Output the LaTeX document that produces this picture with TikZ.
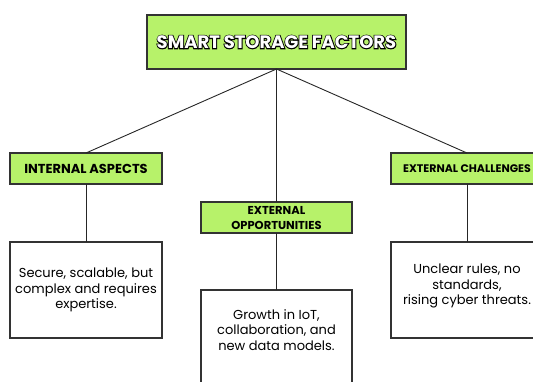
\documentclass[tikz,border=0pt]{standalone}
\usepackage{fontspec}
\setmainfont{Poppins}
\newfontface\titlerim{Poppins Bold}[FakeBold=10]
\newfontface\titlefill{Poppins Bold}
\begin{document}
\definecolor{leaf}{RGB}{183,242,106}
\definecolor{edge}{RGB}{51,51,51}
% heading word with a dark rim: an emboldened dark copy under white letters
\newcommand\rimtext[1]{\rlap{\titlerim\textcolor{black}{#1}}\titlefill\textcolor{white}{#1}}
\begin{tikzpicture}[x=1pt,y=-1pt,
  every node/.style={inner sep=0pt, outer sep=0pt},
  headbox/.style={draw=edge, line width=1.1pt, fill=leaf, align=center,
    font=\fontsize{13}{15}\selectfont\bfseries},
  factbox/.style={draw=edge, line width=1.1pt, fill=white,
    minimum width=152pt, minimum height=96pt},
  facttext/.style={align=center, text=black, font=\fontsize{13}{15.5}\selectfont},
  link/.style={draw=black!85, line width=0.9pt}]
\useasboundingbox (0,0) rectangle (533,381);

% top heading
\node[headbox, minimum width=259pt, minimum height=54pt,
  font=\fontsize{18}{20}\selectfont] (root) at (276.5,42)
  {\rimtext{SMART STORAGE FACTORS}};

% three branches
\node[headbox, minimum width=152pt, minimum height=31pt] (inner) at (86,168.5)
  {INTERNAL ASPECTS};
\node[headbox, minimum width=151pt, minimum height=31pt,
  font=\fontsize{11.5}{15}\selectfont\bfseries] (chance) at (276.5,217.5)
  {EXTERNAL\\OPPORTUNITIES};
\node[headbox, minimum width=152pt, minimum height=31pt,
  font=\fontsize{11}{13}\selectfont\bfseries] (threat) at (467,168.5)
  {EXTERNAL CHALLENGES};

% detail boxes
\node[factbox] (innerbox) at (86,290) {};
\node[facttext] (innertxt) at (86,290)
  {Secure, scalable, but\\complex and requires\\expertise.};
\node[factbox, minimum width=151pt, minimum height=110pt] (chancebox) at (276.5,345) {};
\node[facttext] (chancetxt) at (276.5,330)
  {Growth in IoT,\\collaboration, and\\new data models.};
\node[factbox] (threatbox) at (467,290) {};
\node[facttext] (threattxt) at (467,286)
  {Unclear rules, no\\standards,\\rising cyber threats.};

% connectors
\draw[link] (root.south) -- (inner.north);
\draw[link] (root.south) -- (chance.north);
\draw[link] (root.south) -- (threat.north);
\draw[link] (inner.south) -- (innerbox.north);
\draw[link] (chance.south) -- (chancebox.north);
\draw[link] (threat.south) -- (threatbox.north);
\end{tikzpicture}
\end{document}
